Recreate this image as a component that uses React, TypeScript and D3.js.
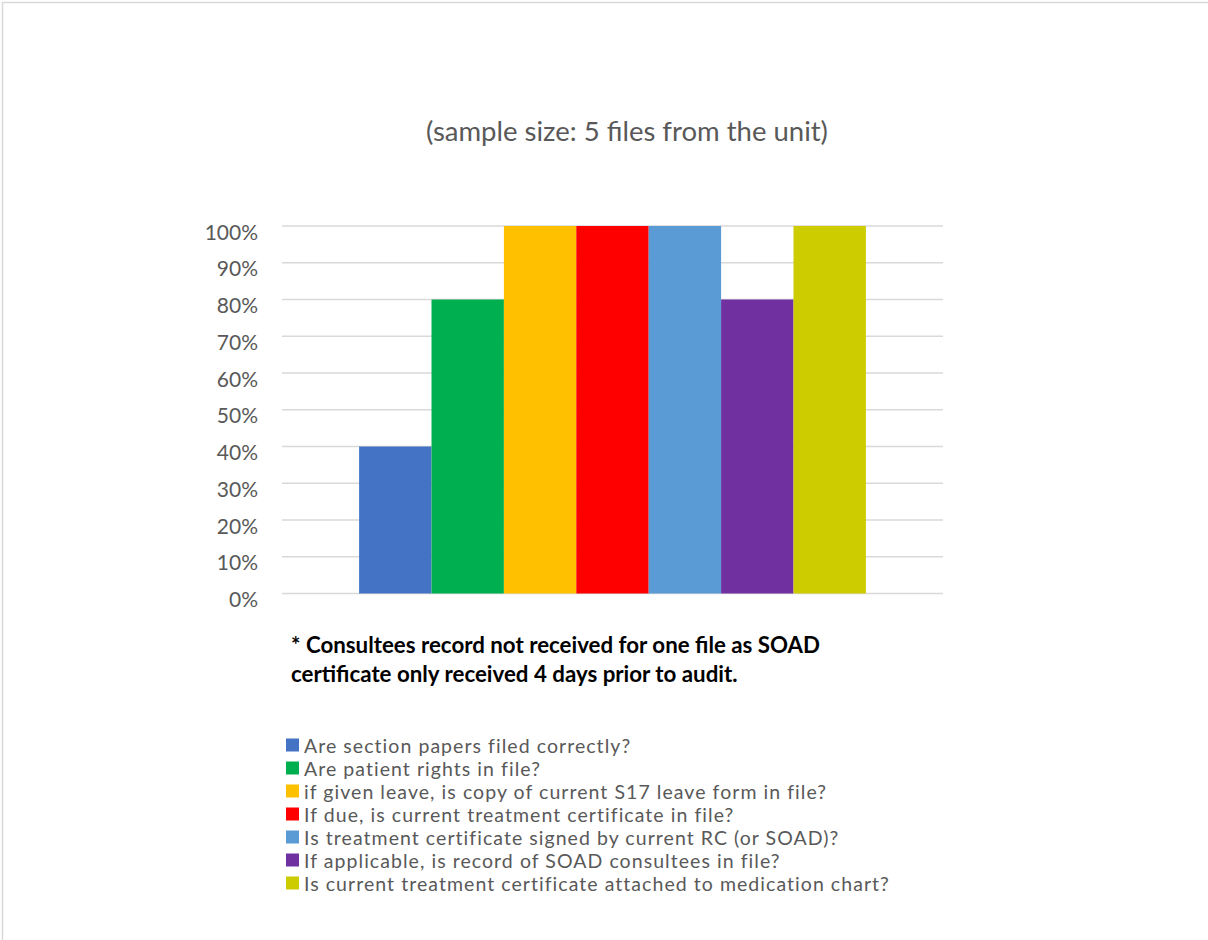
import React from "react";
import * as d3 from "d3";

const categories = [
  "Are section papers filed correctly?",
  "Are patient rights in file?",
  "if given leave, is copy of current S17 leave form in file?",
  "If due, is current treatment certificate in file?",
  "Is treatment certificate signed by current RC (or SOAD)?",
  "If applicable, is record of SOAD consultees in file?",
  "Is current treatment certificate attached to medication chart?",
];
const values = [0.4, 0.8, 1.0, 1.0, 1.0, 0.8, 1.0];
const colors = ["#4472C4", "#00B050", "#FFC000", "#FF0000", "#5B9BD5", "#7030A0", "#CCCC00"];
const yTicks = [0, 0.1, 0.2, 0.3, 0.4, 0.5, 0.6, 0.7, 0.8, 0.9, 1.0];
const title = "(sample size: 5 files from the unit)";
const noteLines = [
  "* Consultees record not received for one file as SOAD",
  "certificate only received 4 days prior to audit.",
];

const W = 1208;
const H = 940;
const plot = { left: 282, right: 943, top: 226, bottom: 593.5 };
const FONT = "Lato, 'Open Sans', sans-serif";

export default function App() {
  const x = d3
    .scaleBand<string>()
    .domain(categories)
    .range([plot.left, plot.right])
    .paddingInner(0)
    .paddingOuter(1.065);
  const y = d3.scaleLinear().domain([0, 1]).range([plot.bottom, plot.top]);
  const fmt = d3.format(".0%");

  return (
    <div style={{ position: "absolute", left: 0, top: 0, width: W, height: H, background: "#fff" }}>
      <svg width={W} height={H} style={{ display: "block" }}>
        <rect x={0} y={0} width={W} height={H} fill="#fff" />
        <rect x={2.5} y={2.5} width={W + 100} height={H + 100} fill="none" stroke="#d9d9d9" strokeWidth={1.5} />
        <text x={627} y={130} textAnchor="middle" dominantBaseline="central" fontFamily={FONT} fontSize={27.5} fill="#595959">
          {title}
        </text>
        {yTicks.map((t) => (
          <g key={t}>
            <line x1={plot.left} x2={plot.right} y1={y(t)} y2={y(t)} stroke="#d9d9d9" strokeWidth={1.6} />
            <text x={258} y={y(t) + 5} textAnchor="end" dominantBaseline="central" fontFamily={FONT} fontSize={21} fill="#595959">
              {fmt(t)}
            </text>
          </g>
        ))}
        {categories.map((c, i) => (
          <rect
            key={c}
            x={x(c)}
            y={y(values[i])}
            width={x.bandwidth()}
            height={y(0) - y(values[i])}
            fill={colors[i]}
          />
        ))}
        {noteLines.map((l, i) => (
          <text key={l} x={291} y={644 + i * 29} dominantBaseline="central" fontFamily={FONT} fontWeight="bold" fontSize={22.3} fill="#000">
            {l}
          </text>
        ))}
        {categories.map((c, i) => (
          <g key={c} transform={`translate(286, ${745 + i * 23})`}>
            <rect x={0} y={-6.5} width={13} height={13} fill={colors[i]} />
            <text x={18} y={0} dominantBaseline="central" fontFamily={FONT} fontSize={19.5} letterSpacing={1.05} fill="#595959">
              {c}
            </text>
          </g>
        ))}
      </svg>
    </div>
  );
}
